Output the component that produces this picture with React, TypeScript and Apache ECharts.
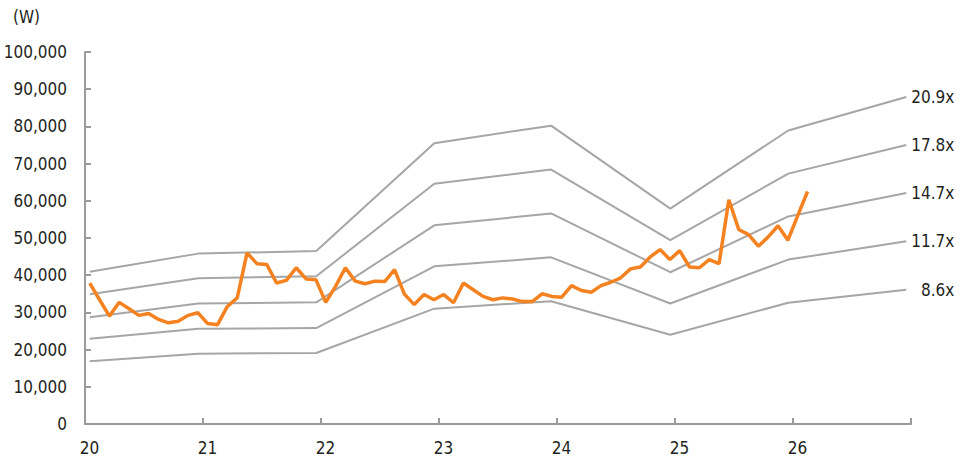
import React, { useEffect, useRef } from "react";
import * as echarts from "echarts";

const bandX = [20.04, 20.96, 21.96, 22.96, 23.95, 24.96, 25.96, 26.96];
const bandNames = ["20.9x", "17.8x", "14.7x", "11.7x", "8.6x"];
const band209 = [40900, 45800, 46500, 75500, 80200, 57900, 78900, 87900];
const band178 = [34900, 39200, 39700, 64600, 68400, 49400, 67300, 75000];
const band147 = [28700, 32400, 32700, 53400, 56600, 40800, 55800, 62100];
const band117 = [22900, 25600, 25800, 42400, 44800, 32400, 44200, 49100];
const band86 = [16900, 18900, 19100, 31000, 33000, 24000, 32600, 36100];
const bands = [band209, band178, band147, band117, band86];

const priceStart = 20.04;
const priceMonthly = [
  37900, 33400, 29000, 32700, 31000, 29200, 29700, 28100, 27200, 27600, 29200, 29900,
  27000, 26700, 31600, 33900, 46000, 43100, 42900, 37900, 38600, 42000, 39000, 38800,
  32700, 37000, 42000, 38400, 37700, 38400, 38300, 41500, 34900, 32100, 34800, 33400,
  34800, 32600, 37900, 36100, 34300, 33400, 33900, 33600, 32900, 32900, 35000, 34300,
  34100, 37200, 35900, 35400, 37200, 38100, 39300, 41700, 42200, 44900, 46900, 44200,
  46600, 42200, 42000, 44200, 43100, 60300, 52300, 50900, 47800, 50300, 53300, 49400,
  56000, 62500,
];

const xMin = 20;
const xMax = 27;
const yMax = 100000;
const yStep = 10000;
const unitLabel = "(W)";

const FONT = "'Liberation Sans Narrow', 'Arial Narrow', 'DejaVu Sans Condensed', sans-serif";
const TEXT = "#231f20";
const GRAY = "#a6a6a6";
const AXIS = "#9a9a9a";
const FS = 17;

export default function App() {
  const ref = useRef<HTMLDivElement>(null);
  useEffect(() => {
    if (!ref.current) return;
    const chart = echarts.init(ref.current, undefined, { renderer: "svg" });
    const bandSeries = bands.map((vals, k) => ({
      type: "line",
      name: bandNames[k],
      data: vals.map((v, i) => [bandX[i], v]),
      showSymbol: false,
      symbol: "none",
      lineStyle: { color: GRAY, width: 2 },
      z: 2,
      endLabel: {
        show: true,
        formatter: bandNames[k],
        color: TEXT,
        fontFamily: FONT,
        fontSize: FS,
        align: "right",
        distance: 0,
        offset: [48, 0],
      },
      silent: true,
    }));
    const priceSeries = {
      type: "line",
      name: "price",
      data: priceMonthly.map((v, i) => [priceStart + i / 12, v]),
      showSymbol: false,
      symbol: "none",
      lineStyle: { color: "#f58220", width: 3.5 },
      z: 5,
      silent: true,
    };
    chart.setOption({
      animation: false,
      grid: { left: 85, right: 65, top: 52, bottom: 40, containLabel: false },
      graphic: [
        {
          type: "text",
          left: 13,
          top: 8,
          style: { text: unitLabel, fill: TEXT, font: `${FS}px ${FONT}` },
        },
      ],
      xAxis: {
        type: "value",
        min: xMin,
        max: xMax,
        interval: 1,
        splitLine: { show: false },
        axisLine: { show: true, lineStyle: { color: AXIS, width: 2 } },
        axisTick: { show: true, inside: true, length: 6, lineStyle: { color: AXIS, width: 2 } },
        axisLabel: {
          color: TEXT,
          fontFamily: FONT,
          fontSize: FS,
          margin: 15,
          padding: [0, 0, 0, 9],
          formatter: (v: number) => (v < xMax ? String(v) : ""),
        },
      },
      yAxis: {
        type: "value",
        min: 0,
        max: yMax,
        interval: yStep,
        splitLine: { show: false },
        axisLine: { show: true, lineStyle: { color: AXIS, width: 2 } },
        axisTick: { show: true, inside: true, length: 6, lineStyle: { color: AXIS, width: 2 } },
        axisLabel: {
          color: TEXT,
          fontFamily: FONT,
          fontSize: FS,
          margin: 18,
          formatter: (v: number) => v.toLocaleString("en-US"),
        },
      },
      series: [...bandSeries, priceSeries],
    });
    return () => chart.dispose();
  }, []);
  return <div ref={ref} style={{ width: 976, height: 464, position: "absolute", left: 0, top: 0 }} />;
}
